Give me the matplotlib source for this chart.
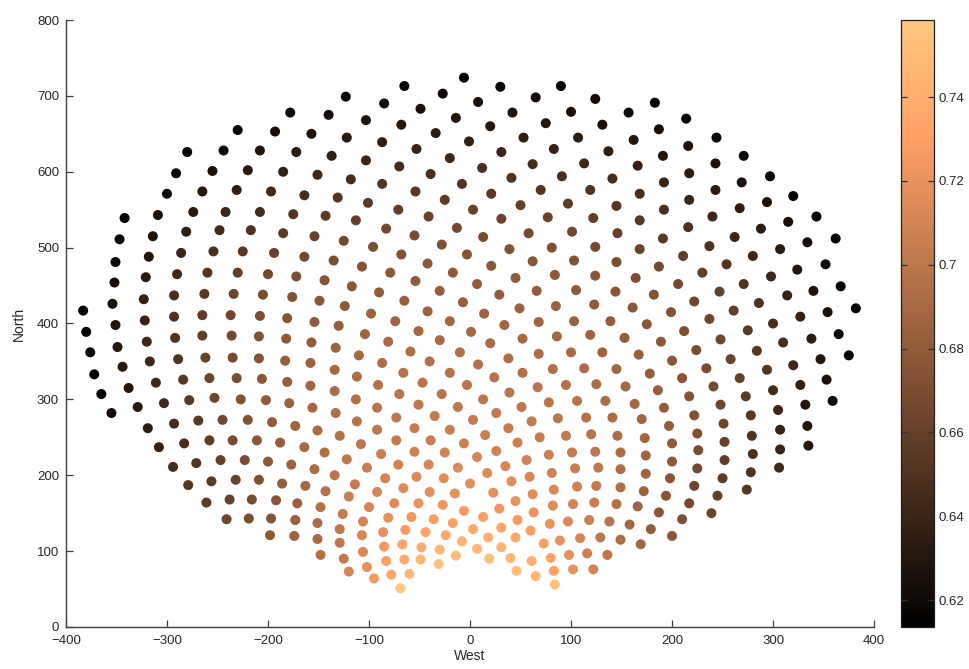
import numpy as np
import matplotlib
matplotlib.use("Agg")
import matplotlib.pyplot as plt
from matplotlib.colors import Normalize

plt.rcParams['font.family'] = ['Liberation Sans Narrow', 'Liberation Sans', 'DejaVu Sans']

# Heliostat positions (m, tower at origin) and optical efficiency of each mirror.
# Western part of the field
west_x = [-178, -140, -230, -193, -157, -280, -244, -208, -172, -137, -291, -255, -220, -185, -151,
          -300, -265, -231, -197, -164, -342, -309, -274, -242, -208, -175, -143,
          -347, -314, -281, -248, -217, -185, -154,
          -351, -318, -286, -254, -225, -194, -164, -135,
          -352, -321, -290, -260, -230, -200, -172, -144,
          -354, -323, -293, -263, -234, -205, -176, -149,
          -383,
          -351, -322, -293, -265, -237, -208, -181, -154, -130,
          -380,
          -349, -320, -292, -265, -236, -209, -182, -157, -133,
          -376,
          -344, -317, -289, -262, -235, -209, -183, -158, -134,
          -372,
          -338, -311, -284, -258, -231, -206, -181, -158, -134,
          -365,
          -329, -303, -278, -253, -227, -202, -179, -156, -133,
          -355,
          -319, -293, -269, -245, -220, -196, -173, -151,
          -308, -283, -258, -235, -211, -188, -164, -144,
          -294, -271, -247, -223, -200, -177, -154,
          -279, -256, -232, -209, -186, -163, -143,
          -261, -238, -216, -192, -171, -148,
          -241, -219, -197, -173, -151,
          -198, -174, -151,
          -148]
west_y = [678, 675, 655, 653, 650, 626, 628, 628, 626, 621, 598, 601, 602, 600, 596,
          571, 574, 576, 574, 569, 539, 543, 547, 547, 547, 544, 542,
          511, 515, 521, 523, 523, 519, 515,
          481, 488, 493, 495, 495, 493, 488, 483,
          454, 461, 465, 467, 467, 465, 462, 457,
          426, 432, 437, 439, 439, 438, 435, 430,
          417,
          398, 404, 409, 411, 411, 410, 407, 402, 397,
          389,
          369, 376, 381, 384, 384, 383, 380, 375, 368,
          362,
          343, 350, 353, 355, 355, 354, 351, 348, 339,
          333,
          315, 322, 326, 328, 328, 327, 323, 318, 311,
          307,
          290, 295, 299, 302, 300, 299, 295, 289, 282,
          282,
          262, 268, 272, 273, 273, 270, 265, 259,
          237, 242, 246, 246, 246, 243, 237, 230,
          211, 216, 220, 220, 218, 214, 208,
          187, 192, 194, 194, 189, 186, 179,
          164, 168, 168, 167, 163, 158,
          142, 143, 143, 141, 137,
          121, 120, 116,
          95]
west_eff = [.620, .624, .618, .623, .628, .616, .622, .628, .633, .637, .620, .626, .632, .637, .642,
            .623, .631, .636, .642, .647, .616, .625, .633, .640, .646, .652, .656,
            .618, .628, .636, .644, .650, .656, .661,
            .621, .631, .640, .648, .654, .661, .666, .671,
            .623, .633, .643, .652, .659, .666, .671, .674,
            .625, .637, .647, .655, .663, .669, .673, .677,
            .615,
            .628, .639, .650, .657, .665, .671, .676, .680, .682,
            .615,
            .629, .642, .652, .659, .667, .673, .678, .682, .686,
            .617,
            .632, .643, .652, .661, .668, .675, .681, .685, .690,
            .617,
            .631, .643, .654, .663, .670, .677, .683, .688, .692,
            .617,
            .632, .644, .655, .664, .673, .679, .685, .689, .694,
            .623,
            .634, .645, .656, .666, .674, .681, .687, .692,
            .638, .647, .658, .668, .676, .682, .689, .694,
            .645, .651, .660, .670, .678, .685, .692,
            .651, .656, .662, .672, .681, .689, .696,
            .657, .662, .668, .676, .684, .696,
            .664, .670, .675, .683, .693,
            .678, .686, .691,
            .696]

# Central part of the field, north of the tower
centre_x = [-6, -65, 30, 90, -27, -123, -85, 8, 65, 124, -49, 42, 100, -103, -14,
            -68, 20, 75, 131, -122, -34, -87, -1, 53, 107, -53, 31, 83, -103, -20,
            -70, 12, 62, 113, -118, -39, -87, -8, 41, 91, -54, 21, 70, 119, -131,
            -25, -101, -71, 3, 50, 97, -41, -113, 31, 77, 122,
            -83, -13, 58, 101, -125, -55, 13, 81, 124, -96, -28, 39, -68, -3, 62,
            103, -107, -42, 21, -79, -17, 45, 84, 124, -117, -54, 7, -90, -30, 29,
            66, 105, -124, -65, -7, 49, 85, 123, -98, -42, 14, -74, -20, 34, 68,
            103, -104, -51, 1, 52, 86, 119, -81, -30, 20,
            -110, -59, -10, 38, 68, 100, 131, -87, -40, 8,
            -66, -20, 24, 52, 82, 113, -112, -47, -3, 67,
            95, 125, -91, 39, -70, -28, 13, 78, 106, 134,
            -113, 51, -51, -12, -92, 26, -73, -35, 3, 61,
            87, 115, -112, 38, -55, -20, 15, -92, -129, 69,
            95, 120, 47, -108, -73, -39, -6, 26, 56, 78,
            101, 124, -88, -55, -25, 7, -122, -102, -71, -41,
            -12, 17, 35, 59, 81, 104, 127, -134, -84, -53,
            -26, 0, 41, -114, 83, 106, 125, -92, -66, -40,
            -15, 23, 62, -120,
            -100, -75, -51, -27, -6, 13, 29, 45, 82, 102, 123,
            -126, -106, -81, -58, -36, -17, 3, 31, 47, 63, 79, 97, 118,
            -129, -107, -86, -64, -44, -24, -8, 18, 45, 60, 73, 89, 109, 129,
            -129, -106, -85, -67, -48, -30, -14, 7, 19, 31, 40, 61, 80, 98, 116,
            -125, -102, -83, -65, -49, -31,
            -120, -95, -78, -60, 46, 65, 83, 102, 122,
            -69, 84]
centre_y = [724, 713, 712, 713, 703, 699, 690, 692, 698, 696, 683, 678, 679, 668, 671,
            662, 660, 664, 662, 645, 651, 639, 640, 645, 645, 630, 626, 630, 615, 618,
            607, 605, 610, 611, 590, 597, 584, 584, 592, 594, 574, 571, 576, 576, 566,
            563, 559, 550, 550, 556, 558, 541, 536, 538, 540, 539,
            525, 526, 519, 521, 509, 516, 514, 500, 501, 501, 504, 498, 491, 491, 482,
            483, 475, 479, 476, 467, 467, 460, 464, 463, 449, 456, 452, 441, 443, 438,
            443, 444, 423, 430, 428, 420, 423, 425, 413, 416, 413, 403, 403, 398, 402,
            403, 386, 390, 389, 380, 383, 385, 376, 378, 374,
            358, 363, 362, 354, 360, 362, 362, 348, 350, 346,
            335, 335, 329, 335, 340, 341, 330, 322, 319, 316,
            319, 320, 319, 309, 307, 307, 300, 296, 298, 298,
            300, 290, 293, 290, 289, 282, 276, 278, 273, 271,
            275, 276, 271, 262, 262, 260, 253, 260, 252, 250,
            252, 254, 243, 241, 246, 246, 242, 232, 220, 227,
            230, 231, 228, 231, 230, 224, 221, 210, 214, 214,
            210, 203, 212, 198, 203, 209, 210, 200, 196, 198,
            196, 189, 192, 188, 181, 185, 186, 178, 183, 178,
            176, 177, 175, 172,
            158, 163, 163, 161, 153, 145, 156, 166, 160, 162, 164,
            149, 139, 144, 145, 142, 137, 129, 131, 141, 151, 136, 139, 141,
            129, 121, 125, 128, 125, 121, 113, 118, 118, 127, 110, 114, 117, 118,
            111, 99, 106, 109, 105, 102, 94, 103, 90, 105, 91, 87, 91, 95, 97,
            90, 79, 87, 89, 89, 83,
            73, 64, 69, 70, 74, 67, 74, 76, 76,
            51, 56]
centre_eff = [.615, .617, .618, .616, .621, .619, .623, .624, .622, .620, .626, .628, .626, .628, .630,
              .631, .632, .630, .627, .632, .634, .636, .638, .636, .634, .640, .641, .639, .642, .643,
              .645, .647, .645, .643, .646, .648, .651, .652, .650, .648, .654, .655, .653, .650, .652,
              .657, .656, .659, .661, .659, .656, .662, .660, .663, .662, .659,
              .666, .667, .668, .666, .667, .669, .670, .672, .668, .671, .672, .673, .674, .675, .676,
              .673, .675, .677, .677, .678, .679, .679, .678, .676, .678, .680, .681, .681, .682, .682,
              .681, .679, .680, .683, .684, .685, .684, .680, .685, .685, .686, .687, .688, .688, .687,
              .685, .687, .689, .690, .690, .689, .686, .690, .691, .692,
              .690, .693, .694, .694, .693, .691, .687, .693, .695, .696,
              .696, .697, .697, .696, .694, .692, .693, .698, .699, .698,
              .695, .693, .696, .699, .698, .699, .700, .699, .697, .693,
              .695, .701, .700, .701, .698, .702, .701, .702, .703, .702,
              .700, .697, .698, .704, .704, .705, .706, .700, .696, .704,
              .702, .698, .707, .700, .704, .706, .707, .709, .709, .706,
              .703, .699, .705, .708, .709, .711, .700, .705, .709, .711,
              .714, .715, .712, .713, .709, .705, .700, .699, .710, .714,
              .716, .717, .716, .704, .713, .707, .702, .712, .714, .718,
              .719, .719, .717, .705,
              .712, .715, .720, .723, .726, .728, .724, .720, .714, .710, .705,
              .703, .710, .718, .723, .728, .731, .736, .733, .726, .720, .721, .714, .706,
              .701, .712, .720, .726, .733, .739, .743, .740, .736, .728, .729, .720, .711, .701,
              .701, .713, .724, .732, .740, .745, .751, .748, .753, .744, .749, .741, .731, .719, .707,
              .704, .719, .730, .739, .746, .754,
              .711, .726, .735, .747, .752, .745, .731, .720, .710,
              .758, .754]

# Eastern part of the field
east_x = [183, 157, 214, 187, 244, 162, 216, 271, 137, 191, 243, 166, 217, 297, 141,
          192, 269, 243, 168, 320, 294, 217, 145, 267, 192, 343, 240, 168,
          315, 146, 216, 288, 191, 262, 334, 362, 168, 237,
          307, 145, 211, 280, 187, 254, 324, 352, 164, 230,
          298, 206, 271, 367, 144, 182, 247, 314, 340, 222,
          286, 161, 199, 261, 327, 354, 382, 139, 175, 237,
          300, 212, 275, 153, 189, 248, 310, 338, 365, 167,
          224, 284, 200, 258, 347, 375, 145, 178, 234, 294,
          320, 210, 267, 353, 154, 186, 241, 300, 327, 217,
          273, 163, 192, 248, 305, 332, 359, 222, 278, 141,
          170,
          197, 251, 307, 334, 146, 173, 200, 225, 252, 279,
          307, 335, 149, 174, 200, 226, 252, 280, 306, 149,
          174, 198, 225, 250, 278, 149, 172, 194, 222, 245,
          274, 145, 166, 187, 217, 239, 138, 158, 179, 210,
          149, 169, 200, 136]
east_y = [691, 678, 670, 656, 645, 642, 634, 621, 627, 621, 611, 608, 598, 594, 591,
          586, 586, 576, 571, 568, 560, 563, 555, 552, 550, 541, 541, 536,
          534, 519, 527, 525, 512, 514, 507, 512, 498, 502,
          498, 481, 489, 489, 475, 478, 471, 478, 460, 467,
          462, 452, 452, 449, 442, 438, 442, 437, 443, 429,
          427, 421, 415, 417, 409, 415, 420, 403, 399, 406,
          400, 390, 391, 381, 376, 379, 375, 380, 386, 359,
          365, 364, 351, 353, 353, 358, 340, 334, 341, 339,
          345, 328, 328, 326, 317, 312, 317, 312, 319, 304,
          304, 294, 289, 293, 286, 293, 298, 279, 279, 276,
          274,
          265, 268, 260, 265, 252, 249, 242, 255, 244, 252,
          234, 239, 230, 226, 218, 233, 220, 228, 210, 208,
          202, 196, 209, 196, 204, 184, 179, 173, 186, 173,
          181, 162, 159, 151, 163, 150, 139, 135, 129, 142,
          115, 109, 120, 95]
east_eff = [.615, .622, .617, .624, .618, .630, .625, .619, .636, .631, .626, .638, .634, .618, .645,
            .640, .627, .634, .646, .618, .627, .641, .653, .635, .648, .615, .642, .654,
            .626, .661, .649, .634, .656, .642, .623, .615, .663, .650,
            .633, .670, .658, .642, .666, .651, .631, .621, .671, .659,
            .641, .667, .651, .618, .676, .673, .659, .639, .629, .666,
            .650, .677, .673, .659, .638, .626, .615, .681, .677, .665,
            .648, .671, .656, .682, .677, .664, .646, .634, .622, .683,
            .670, .654, .677, .662, .630, .617, .688, .682, .669, .651,
            .641, .676, .660, .626, .689, .683, .668, .646, .637, .675,
            .656, .689, .682, .665, .642, .631, .620, .673, .654, .693,
            .688,
            .681, .664, .638, .630, .693, .687, .680, .672, .661, .651,
            .639, .631, .693, .687, .678, .670, .658, .648, .642, .693,
            .686, .676, .667, .657, .650, .694, .686, .676, .665, .660,
            .653, .696, .686, .677, .667, .664, .698, .689, .681, .672,
            .693, .688, .677, .700]

# Colour scale limits of the efficiency bar
eff_limits = (0.6136, 0.7584)
cbar_ticks = [0.62, 0.64, 0.66, 0.68, 0.70, 0.72, 0.74]
cbar_labels = ['0.62', '0.64', '0.66', '0.68', '0.7', '0.72', '0.74']

x = np.array(west_x + centre_x + east_x, dtype=float)
y = np.array(west_y + centre_y + east_y, dtype=float)
eff = np.array(west_eff + centre_eff + east_eff, dtype=float)

axis_grey = '#404040'
text_grey = '#262626'

fig = plt.figure(figsize=(9.69, 6.69), dpi=100)
ax = fig.add_axes([0.0681, 0.0628, 0.8339, 0.9073])
norm = Normalize(vmin=eff_limits[0], vmax=eff_limits[1])
ax.scatter(x, y, c=eff, cmap='copper', norm=norm, s=52, edgecolors='none')

ax.set_xlim(-400, 400)
ax.set_ylim(0, 800)
ax.set_xticks(np.arange(-400, 401, 100))
ax.set_yticks(np.arange(0, 801, 100))
for side in ('top', 'right'):
    ax.spines[side].set_visible(False)
for side in ('left', 'bottom'):
    ax.spines[side].set_color(axis_grey)
    ax.spines[side].set_linewidth(1.0)
ax.tick_params(direction='in', length=5, width=0.9, color=axis_grey,
               labelsize=9.5, labelcolor=text_grey)
ax.tick_params(axis='x', pad=6)
ax.tick_params(axis='y', pad=5)
ax.set_xlabel('West', fontsize=10, color=text_grey, labelpad=1)
ax.set_ylabel('North', fontsize=10, color=text_grey, labelpad=8)

cax = fig.add_axes([0.9298, 0.0628, 0.0341, 0.9073])
sm = plt.cm.ScalarMappable(norm=norm, cmap='copper')
cb = fig.colorbar(sm, cax=cax)
cb.set_ticks(cbar_ticks)
cb.set_ticklabels(cbar_labels)
cb.outline.set_linewidth(0.9)
cb.outline.set_edgecolor('#202020')
cax.tick_params(direction='in', length=4, width=0.9, color='#303030',
                labelsize=9.5, labelcolor=text_grey, left=True, right=True, pad=3)

fig.savefig('out.png', dpi=100)
